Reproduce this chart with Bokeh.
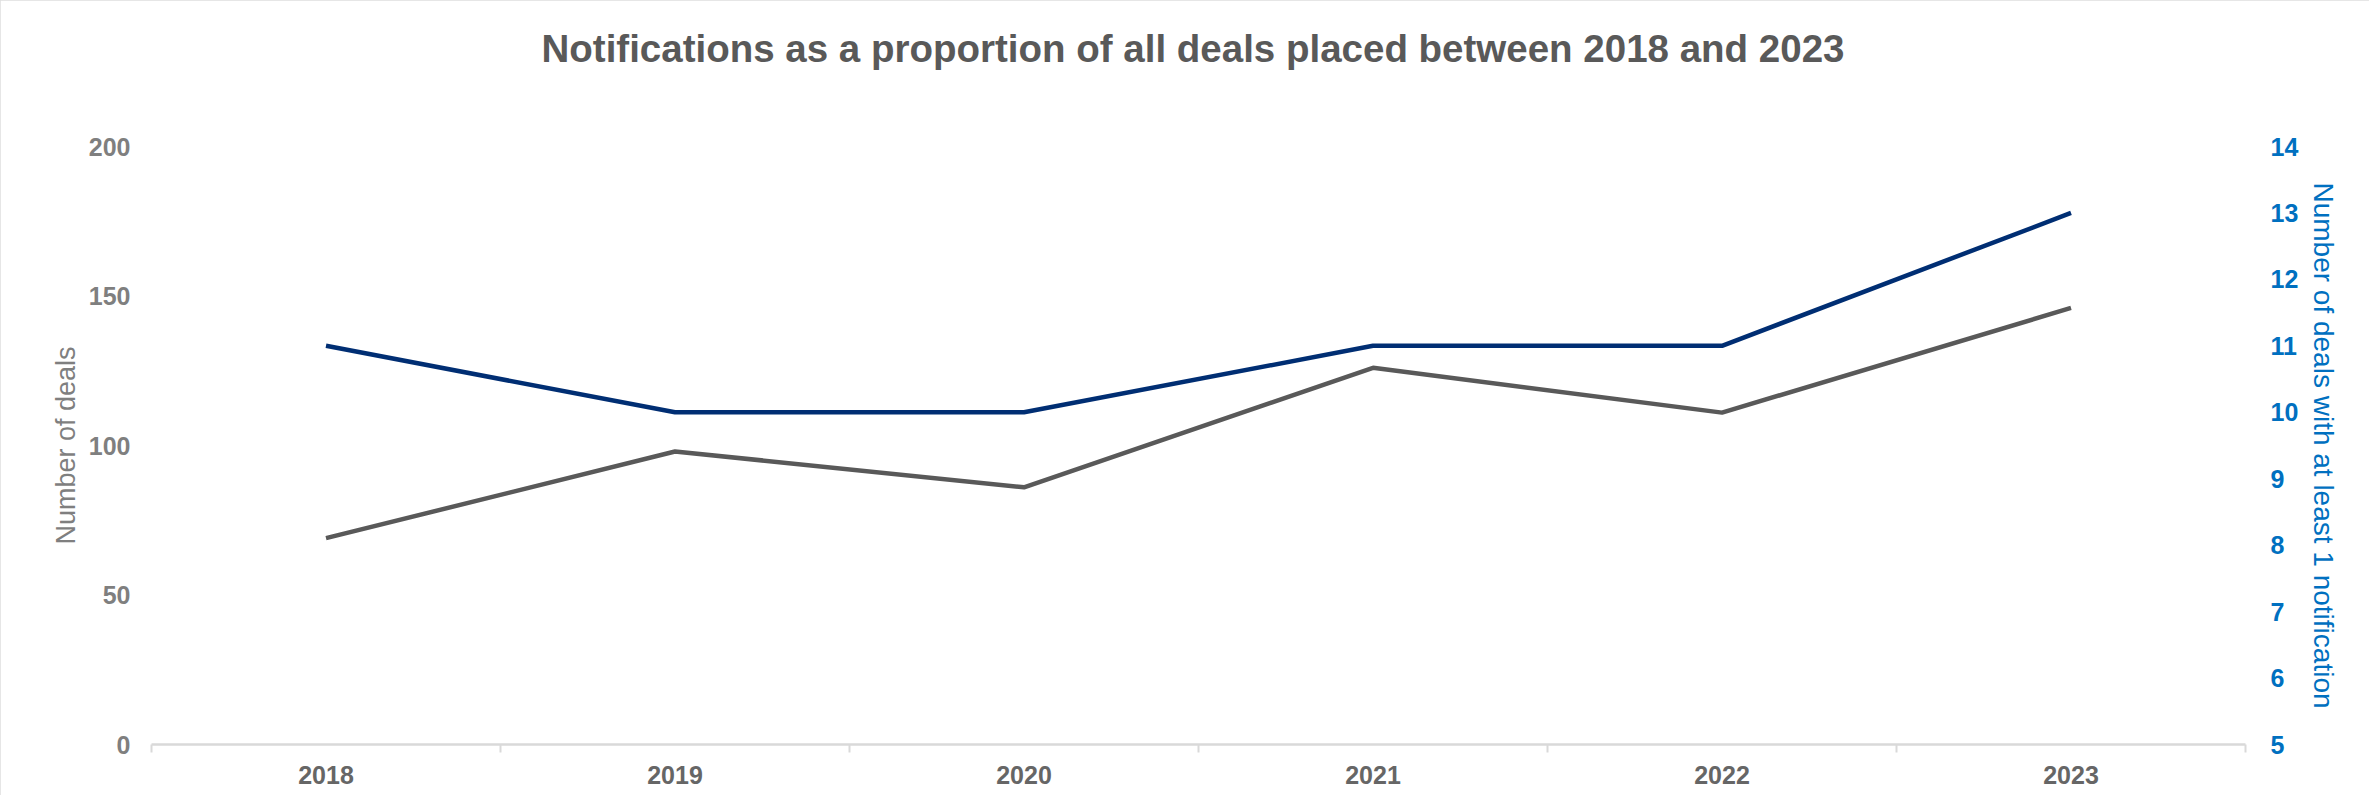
from bokeh.plotting import figure
from bokeh.models import Range1d, LinearAxis, FixedTicker, SingleIntervalTicker, Title
from bokeh.embed import file_html
from bokeh.resources import INLINE

# ---- data ----
years = ["2018", "2019", "2020", "2021", "2022", "2023"]
deals = [69, 98, 86, 126, 111, 146]            # left axis: Number of deals
notified = [11, 10, 10, 11, 11, 13]            # right axis: deals with >= 1 notification

title_text = "Notifications as a proportion of all deals placed between 2018 and 2023"
left_label = "Number of deals"
right_label = "Number of deals with at least 1 notification"

FONT = "Liberation Sans"
GREY_TXT = "#7f7f7f"
DARK_TXT = "#595959"
BLUE_TXT = "#0070C0"
AXIS_GREY = "#d9d9d9"

x = list(range(len(years)))
boundaries = [i - 0.5 for i in range(len(years) + 1)]

p = figure(width=2369, height=795,
           x_range=Range1d(-0.5, len(years) - 0.5),
           y_range=Range1d(0, 200),
           x_axis_type=None, y_axis_type=None,
           title_location=None,
           output_backend="svg", toolbar_location=None,
           min_border_left=151, min_border_right=124,
           min_border_top=146, min_border_bottom=51)
p.extra_y_ranges = {"right": Range1d(5, 14)}
p.outline_line_color = None
p.background_fill_color = "white"
p.border_fill_color = "white"
p.styles = {"outline": "3px solid #dedede", "outline-offset": "-3px"}

# invisible spacer axis between the frame and the title
spacer = LinearAxis(ticker=FixedTicker(ticks=[x[0]]),
                    major_label_overrides={x[0]: ""})
spacer.axis_line_color = None
spacer.major_tick_line_color = None
spacer.minor_tick_line_color = None
spacer.major_tick_in = 0
spacer.major_tick_out = 53
spacer.minor_tick_out = 0
spacer.minor_tick_in = 0
spacer.major_label_standoff = 0
spacer.major_label_text_font_size = "1px"
spacer.major_label_text_alpha = 0
p.add_layout(spacer, "above")

# title (stacked outside the spacer)
title = Title(text=title_text, align="left", offset=390, vertical_align="top",
              text_font=FONT, text_font_size="38.5px", text_font_style="bold",
              text_color=DARK_TXT, standoff=44)
p.add_layout(title, "above")

# x axis (labels at category centres, tick marks between categories)
xax = LinearAxis(ticker=FixedTicker(ticks=x, minor_ticks=boundaries),
                 major_label_overrides={i: y for i, y in zip(x, years)})
xax.axis_line_color = AXIS_GREY
xax.axis_line_width = 2.5
xax.major_tick_line_color = None
xax.major_tick_out = 0
xax.major_tick_in = 0
xax.minor_tick_line_color = AXIS_GREY
xax.minor_tick_line_width = 2
xax.minor_tick_out = 8
xax.minor_tick_in = 0
xax.major_label_standoff = 13
xax.major_label_text_font = FONT
xax.major_label_text_font_size = "25px"
xax.major_label_text_font_style = "bold"
xax.major_label_text_color = "#666666"
p.add_layout(xax, "below")

# left axis
lax = LinearAxis(ticker=SingleIntervalTicker(interval=50), axis_label=left_label)
lax.axis_line_color = None
lax.major_tick_line_color = None
lax.minor_tick_line_color = None
lax.major_tick_out = 0
lax.major_tick_in = 0
lax.major_label_standoff = 17
lax.major_label_text_font = FONT
lax.major_label_text_font_size = "25px"
lax.major_label_text_font_style = "bold"
lax.major_label_text_color = GREY_TXT
lax.axis_label_text_font = FONT
lax.axis_label_text_font_size = "27px"
lax.axis_label_text_font_style = "normal"
lax.axis_label_text_color = GREY_TXT
lax.axis_label_standoff = 5
p.add_layout(lax, "left")

# right axis
rax = LinearAxis(y_range_name="right", ticker=SingleIntervalTicker(interval=1),
                 axis_label=right_label)
rax.axis_line_color = None
rax.major_tick_line_color = None
rax.minor_tick_line_color = None
rax.major_tick_out = 0
rax.major_tick_in = 0
rax.major_label_standoff = 21
rax.major_label_text_font = FONT
rax.major_label_text_font_size = "25px"
rax.major_label_text_font_style = "bold"
rax.major_label_text_color = BLUE_TXT
rax.axis_label_text_font = FONT
rax.axis_label_text_font_size = "28px"
rax.axis_label_text_font_style = "normal"
rax.axis_label_text_color = BLUE_TXT
rax.axis_label_standoff = 7
p.add_layout(rax, "right")

# lines
p.line(x, deals, line_color="#595959", line_width=4.5)
p.line(x, notified, y_range_name="right", line_color="#002E73", line_width=4.5)

open("out.html", "w").write(file_html(p, INLINE))
